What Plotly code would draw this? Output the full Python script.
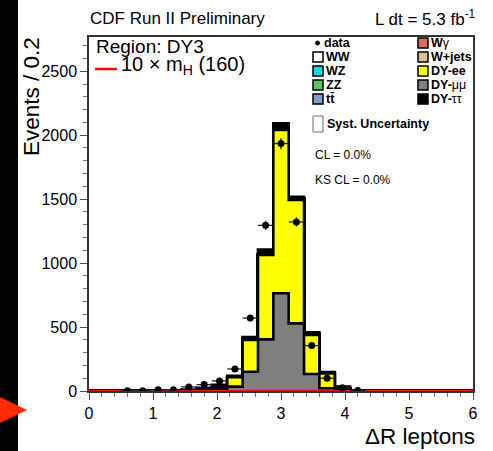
import plotly.graph_objects as go

# ---------------- data ----------------
bin_edges = [round(0.24 * i, 2) for i in range(26)]
bin_centers = [round(0.12 + 0.24 * i, 2) for i in range(25)]

data_counts = [None, None, 1, 1, 10, 10, 32, 50, 79, 172, 570, 1295, 1935, 1322, 355, 100, 25, 4,
               None, None, None, None, None, None, None]

dy_mumu = [0, 0, 0, 0, 0, 0, 0, 2, 8, 34, 151, 404, 764, 529, 133, 21, 5, 0, 0, 0, 0, 0, 0, 0, 0]
dy_ee = [0, 0, 0, 0, 0, 0, 0, 3, 15, 73, 248, 659, 1277, 964, 305, 117, 12, 0, 0, 0, 0, 0, 0, 0, 0]
w_gamma = [0, 0, 0, 0, 0, 0, 0, 0, 0, 0, 1, 1, 2, 2, 0, 0, 0, 0, 0, 0, 0, 0, 0, 0, 0]
w_jets = [0, 0, 0, 0, 0, 0, 0, 0, 0, 1, 1, 3, 10, 10, 1, 0, 0, 0, 0, 0, 0, 0, 0, 0, 0]
ttbar = [0, 0, 0, 0, 0, 0, 0, 0, 0, 0, 0, 0, 0, 0, 0, 0, 0, 0, 0, 0, 0, 0, 0, 0, 0]
zz = [0, 0, 0, 0, 0, 0, 0, 0, 0, 0, 0, 1, 1, 1, 0, 0, 0, 0, 0, 0, 0, 0, 0, 0, 0]
wz = [0, 0, 0, 0, 0, 0, 0, 0, 0, 0, 0, 0, 1, 0, 0, 0, 0, 0, 0, 0, 0, 0, 0, 0, 0]
ww = [0, 0, 0, 0, 0, 0, 0, 0, 1, 1, 1, 1, 1, 1, 1, 0, 0, 0, 0, 0, 0, 0, 0, 0, 0]
dy_tautau = [0, 0, 0, 0, 3, 6, 12, 20, 25, 10, 20, 36, 37, 11, 18, 11, 17, 0, 0, 0, 0, 0, 0, 0, 0]
signal_x10 = [0, 0, 0, 0, 0, 0, 0, 0, 0, 0, 1, 1, 2, 2, 1, 0, 0, 0, 0, 0, 0, 0, 0, 0, 0]

# stack order bottom -> top
stack_names = ["DY-μμ", "DY-ee", "Wγ", "W+jets", "tt̄", "ZZ", "WZ", "WW", "DY-ττ"]
stack_values = [dy_mumu, dy_ee, w_gamma, w_jets, ttbar, zz, wz, ww, dy_tautau]
stack_colors = ["#7f7f7f", "#ffff00", "#de6b5e", "#dfbf95", "#7e9ed1", "#5cc55c", "#00e0e8", "#ffffff", "#000000"]

x_ticks = [0, 1, 2, 3, 4, 5, 6]
y_ticks = [0, 500, 1000, 1500, 2000, 2500]

# ---------------- figure ----------------
W, H = 493, 451
ML, MR, MT, MB = 89, 20, 37, 60
PW, PH = W - ML - MR, H - MT - MB


def px(x):
    return (x - ML) / PW


def py(y):
    return (H - MB - y) / PH


fig = go.Figure()

# cumulative stacks
cum = []
running = [0] * len(bin_centers)
for vals in stack_values:
    running = [a + b for a, b in zip(running, vals)]
    cum.append(list(running))

for i in range(len(cum) - 1, -1, -1):
    yv = cum[i] + [cum[i][-1]]
    fig.add_trace(go.Scatter(
        x=bin_edges, y=yv, mode="lines", line=dict(shape="hv", color="black", width=2.6),
        fill="tozeroy", fillcolor=stack_colors[i], name=stack_names[i], showlegend=False,
        hoverinfo="skip"))

# signal line
fig.add_trace(go.Scatter(
    x=bin_edges, y=signal_x10 + [signal_x10[-1]], mode="lines",
    line=dict(shape="hv", color="#ee1100", width=2.2), showlegend=False, hoverinfo="skip"))

# data points
fig.add_trace(go.Scatter(
    x=bin_centers, y=data_counts, mode="markers",
    marker=dict(color="black", size=7),
    error_x=dict(type="constant", value=0.12, color="#222222", thickness=1.3, width=0),
    error_y=dict(type="data", array=[(c ** 0.5 if c is not None else 0) for c in data_counts],
                 color="#222222", thickness=1.3, width=0),
    showlegend=False, hoverinfo="skip"))

FONT = "Liberation Sans, Arial, Helvetica, sans-serif"

fig.update_layout(
    width=W, height=H, margin=dict(l=ML, r=MR, t=MT, b=MB),
    paper_bgcolor="white", plot_bgcolor="white",
    font=dict(family=FONT, color="black"),
    showlegend=False,
    xaxis=dict(range=[0, 6], tickvals=x_ticks, ticks="outside", ticklen=7, tickwidth=1, tickcolor="#555",
               showline=True, linecolor="#333", linewidth=1.5, mirror=True, showgrid=False, zeroline=False,
               tickfont=dict(size=16, family=FONT), minor=dict(dtick=0.2, ticks="outside", ticklen=4, tickcolor="#777")),
    yaxis=dict(range=[0, PH / 0.1279], tickvals=y_ticks, ticks="outside", ticklen=7, tickwidth=1, tickcolor="#555",
               showline=True, linecolor="#333", linewidth=1.5, mirror=True, showgrid=False, zeroline=False,
               tickfont=dict(size=16, family=FONT), minor=dict(dtick=100, ticks="outside", ticklen=4, tickcolor="#777")),
)

ann = []
shapes = []


def text(x, y, s, size, xanchor="left", yanchor="middle", angle=0, bold=False):
    ann.append(dict(x=px(x), y=py(y), xref="paper", yref="paper", text=(f"<b>{s}</b>" if bold else s),
                    showarrow=False, xanchor=xanchor, yanchor=yanchor, textangle=angle,
                    font=dict(size=size, family=FONT, color="black")))


# header
text(88, 18, "CDF Run II Preliminary", 17)
text(478, 18, "L dt = 5.3 fb<sup>-1</sup>", 17, xanchor="right")
# region label and signal entry
text(94, 47, "Region: DY3", 19)
shapes.append(dict(type="line", xref="paper", yref="paper", x0=px(95), x1=px(117), y0=py(69), y1=py(69),
                   line=dict(color="#ee1100", width=2.5)))
text(119, 66, "10 × m<sub>H</sub> (160)", 20)

# legend
LF = 12.5
rows = [43, 57, 71, 85, 99]
col1 = [("data", None), ("WW", "#ffffff"), ("WZ", "#00e0e8"), ("ZZ", "#5cc55c"), ("tt̄", "#7e9ed1")]
col2 = [("W<span style='font-weight:normal'>γ</span>", "#de6b5e"), ("W+jets", "#dfbf95"), ("DY-ee", "#ffff00"),
        ("DY-<span style='font-weight:normal'>μμ</span>", "#7f7f7f"), ("DY-<span style='font-weight:normal'>ττ</span>", "#000000")]
for (lab, col), yy in zip(col1, rows):
    if col is None:
        shapes.append(dict(type="circle", xref="paper", yref="paper", x0=px(315.5), x1=px(319.5), y0=py(yy - 2), y1=py(yy + 2),
                           fillcolor="black", line=dict(color="black", width=1)))
        text(322, yy, lab, LF, bold=True)
    else:
        shapes.append(dict(type="rect", xref="paper", yref="paper", x0=px(313), x1=px(323), y0=py(yy - 5), y1=py(yy + 5),
                           fillcolor=col, line=dict(color="black", width=1.5)))
        text(324, yy, lab, LF, bold=True)
for (lab, col), yy in zip(col2, rows):
    shapes.append(dict(type="rect", xref="paper", yref="paper", x0=px(418), x1=px(428), y0=py(yy - 5), y1=py(yy + 5),
                       fillcolor=col, line=dict(color="black", width=1.5)))
    text(429, yy, lab, LF, bold=True)
shapes.append(dict(type="rect", xref="paper", yref="paper", x0=px(313), x1=px(323), y0=py(116), y1=py(132),
                   fillcolor="white", line=dict(color="#666", width=1)))
text(325, 124, "Syst. Uncertainty", LF, bold=True)
text(313, 155, "CL = 0.0%", 12)
text(313, 180, "KS CL = 0.0%", 12)

# axis titles
text(477, 436, "ΔR leptons", 22.5, xanchor="right")
text(31, 97, "Events / 0.2", 22.5, xanchor="center", angle=-90)

# left black bar and red arrow
shapes.append(dict(type="rect", xref="paper", yref="paper", x0=px(0), x1=px(18), y0=py(H), y1=py(0),
                   fillcolor="black", line=dict(width=0), layer="above"))
shapes.append(dict(type="path", xref="paper", yref="paper",
                   path=f"M {px(0)} {py(397)} L {px(27)} {py(410)} L {px(0)} {py(423)} Z",
                   fillcolor="#ff2a00", line=dict(width=0), layer="above"))

fig.update_layout(annotations=ann, shapes=shapes)
fig.write_html("out.html")
